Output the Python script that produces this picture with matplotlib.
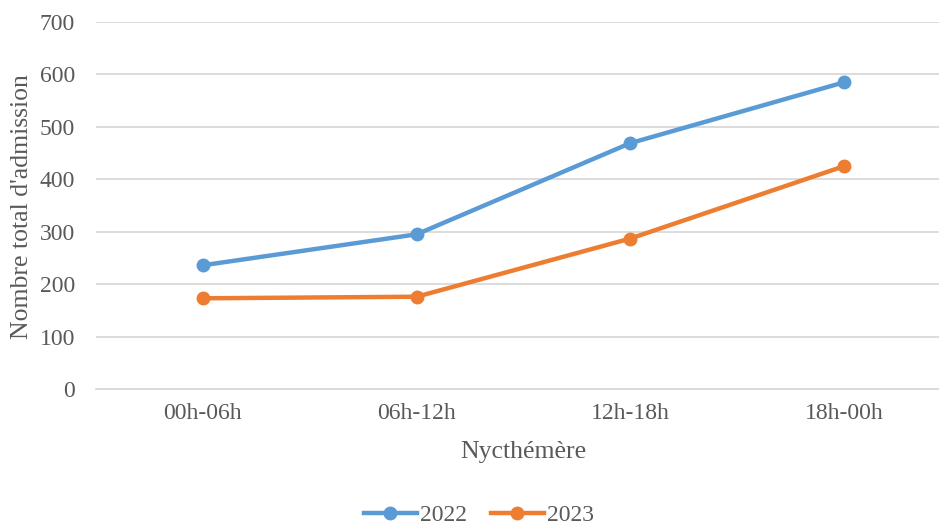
import matplotlib
matplotlib.use("Agg")
import matplotlib.pyplot as plt
from matplotlib.lines import Line2D

# Admissions by time-of-day slot
periods = ["00h-06h", "06h-12h", "12h-18h", "18h-00h"]
admissions_2022 = [236, 295, 469, 585]
admissions_2023 = [173, 176, 287, 425]
y_ticks = [0, 100, 200, 300, 400, 500, 600, 700]

BLUE = "#5B9BD5"
ORANGE = "#ED7D31"
TEXT = "#595959"
GRID = "#D9D9D9"

plt.rcParams["font.family"] = ["Liberation Serif", "DejaVu Serif"]

W, H = 939, 526
fig = plt.figure(figsize=(W / 100, H / 100), dpi=100)
left, right = 96, 951
top, bottom = 22, 389
ax = fig.add_axes([left / W, 1 - bottom / H, (right - left) / W, (bottom - top) / H])

x = list(range(len(periods)))
ax.plot(x, admissions_2022, color=BLUE, lw=3.2, marker="o", ms=9, label="2022",
        solid_capstyle="round", zorder=3)
ax.plot(x, admissions_2023, color=ORANGE, lw=3.2, marker="o", ms=9, label="2023",
        solid_capstyle="round", zorder=3)

ax.set_xlim(-0.5, len(periods) - 0.5)
ax.set_ylim(0, 700)
ax.set_yticks(y_ticks)
ax.set_xticks(x)
ax.set_xticklabels(periods)
ax.grid(axis="y", color=GRID, lw=1.3)
ax.set_axisbelow(True)
for s in ["top", "right", "left"]:
    ax.spines[s].set_visible(False)
ax.spines["bottom"].set_color(GRID)
ax.spines["bottom"].set_linewidth(1.3)
ax.tick_params(axis="both", length=0, colors=TEXT, labelsize=17)
ax.tick_params(axis="y", pad=15)
ax.tick_params(axis="x", pad=10)

fig.text(22 / W, 1 - 207 / H, "Nombre total d'admission", rotation=90,
         ha="center", va="center", color=TEXT, fontsize=18.5)
fig.text(523 / W, 1 - 452 / H, "Nycthémère", ha="center", va="center",
         color=TEXT, fontsize=18.5)

handles = [Line2D([], [], color=BLUE, lw=3.2, marker="o", ms=9),
           Line2D([], [], color=ORANGE, lw=3.2, marker="o", ms=9)]
leg = fig.legend(handles, ["2022", "2023"], loc="center", ncol=2,
                 bbox_to_anchor=(479 / W, 1 - 515 / H), frameon=False,
                 fontsize=17, handlelength=2.25, handletextpad=0.15,
                 columnspacing=1.0)
for t in leg.get_texts():
    t.set_color(TEXT)

fig.savefig("out.png", dpi=100)
